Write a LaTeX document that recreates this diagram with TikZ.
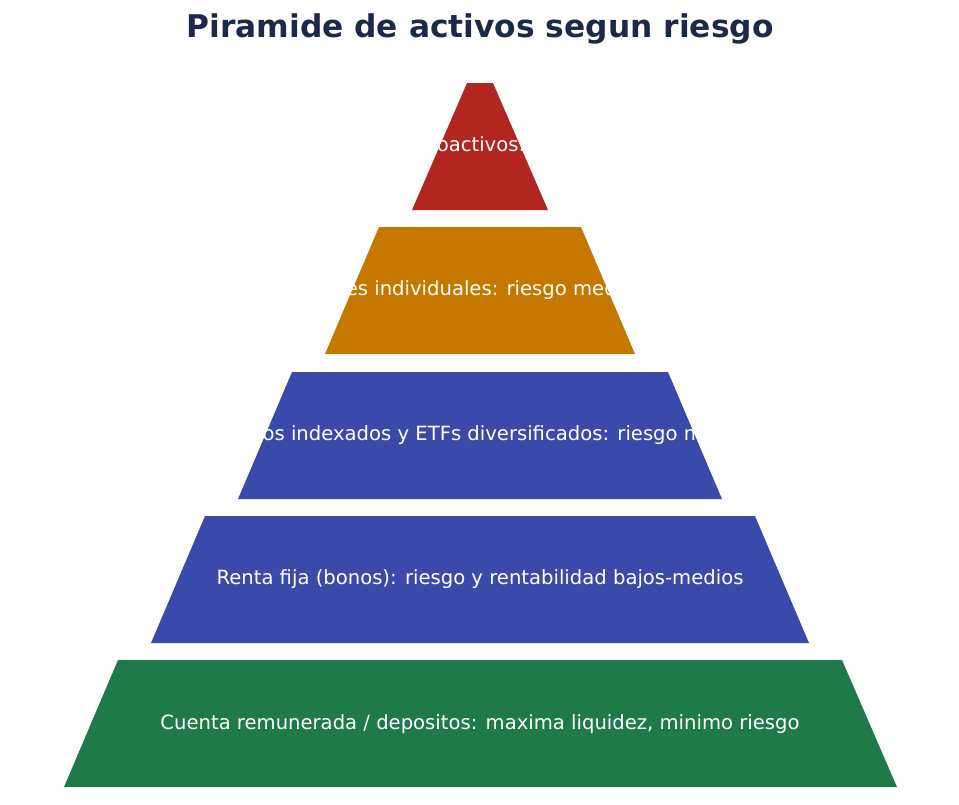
\documentclass[tikz,border=0pt]{standalone}
\usepackage{fontspec}
\setmainfont{DejaVu Sans}
\definecolor{cred}{HTML}{B22620}
\definecolor{corange}{HTML}{C67700}
\definecolor{cblue}{HTML}{3A4AAB}
\definecolor{cgreen}{HTML}{1F7A4A}
\definecolor{navy}{HTML}{1B2A4A}
\begin{document}
\begin{tikzpicture}[x=1pt,y=-1pt,
  lbl/.style={text=white,font=\fontsize{19.6}{22}\selectfont,anchor=center,inner sep=0}]
\useasboundingbox (0,0) rectangle (959,804);
\node[font=\bfseries\fontsize{31.3}{34}\selectfont,text=navy] (title) at (480,29) {Piramide de activos segun riesgo};
\fill[cred] (467,83) -- (493,83) -- (548,210) -- (412,210) -- cycle;
\fill[corange] (379,227) -- (581,227) -- (635,354) -- (325,354) -- cycle;
\fill[cblue] (292,372) -- (668,372) -- (722,499) -- (238,499) -- cycle;
\fill[cblue] (205,516) -- (755,516) -- (809,643) -- (151,643) -- cycle;
\fill[cgreen] (118,660) -- (842,660) -- (897,787) -- (64,787) -- cycle;
\node[lbl] (l1) at (480,146) {Criptoactivos: alto};
\node[lbl] (l2) at (480,290) {Acciones individuales: riesgo medio-alto};
\node[lbl] (l3) at (480,435) {Fondos indexados y ETFs diversificados: riesgo medio};
\node[lbl] (l4) at (480,579) {Renta fija (bonos): riesgo y rentabilidad bajos-medios};
\node[lbl] (l5) at (480,724) {Cuenta remunerada / depositos: maxima liquidez, minimo riesgo};
\end{tikzpicture}
\end{document}
